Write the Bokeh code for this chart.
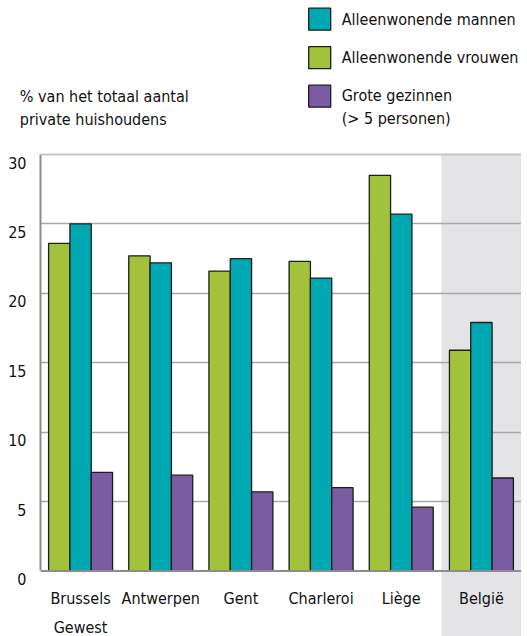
from bokeh.plotting import figure
from bokeh.layouts import column
from bokeh.models import (FactorRange, Range1d, FixedTicker, Span, ColumnDataSource)
from bokeh.transform import dodge
from bokeh.core.properties import value
from bokeh.embed import file_html
from bokeh.resources import INLINE

# ---- data ----
categories = ["Brussels Gewest", "Antwerpen", "Gent", "Charleroi", "Liège", "België"]
category_labels = ["Brussels\nGewest", "Antwerpen", "Gent", "Charleroi", "Liège", "België"]
vrouwen = [23.6, 22.7, 21.6, 22.3, 28.5, 15.9]   # Alleenwonende vrouwen
mannen = [25.0, 22.2, 22.5, 21.1, 25.7, 17.9]    # Alleenwonende mannen
grote = [7.1, 6.9, 5.7, 6.0, 4.6, 6.7]           # Grote gezinnen (> 5 personen)
y_ticks = [0, 5, 10, 15, 20, 25, 30]
highlight = ["België"]
series_labels = ["Alleenwonende mannen", "Alleenwonende vrouwen",
                 "Grote gezinnen\n(> 5 personen)"]
y_title = "% van het totaal aantal\nprivate huishoudens"

# ---- style ----
FONT = "DejaVu Sans Condensed"
GREEN = "#a3c23c"
TEAL = "#00a9b1"
PURPLE = "#7a5ca3"
BAND = "#e4e4e7"
EDGE = "#1c1c1c"
TXT = "#111111"
FS = "16px"
TOTAL_W = 521
TOP_H = 132
MAIN_H = 636 - TOP_H

# ---------- header (legend + y title) ----------
top = figure(width=TOTAL_W, height=TOP_H, x_range=Range1d(0, TOTAL_W),
             y_range=Range1d(TOP_H, 0), x_axis_location=None, y_axis_location=None,
             min_border=0, output_backend="svg", toolbar_location=None)
top.frame_align = False
top.grid.visible = False
top.outline_line_color = None

legend_colors = [TEAL, GREEN, PURPLE]
LEG_X, LEG_Y0, LEG_STEP, SQ = 319.2, 18.7, 38.5, 22
leg_y = [LEG_Y0 + LEG_STEP * i for i in range(len(series_labels))]
top.rect(x=[LEG_X] * len(leg_y), y=leg_y, width=SQ, height=SQ,
         fill_color=legend_colors, line_color=EDGE, line_width=1.3)
top.text(x=[LEG_X + 22] * 2, y=leg_y[:2], text=series_labels[:2],
         text_baseline="middle", text_align="left", text_font=value(FONT),
         text_font_size=FS, text_color=TXT)
top.text(x=[LEG_X + 22], y=[leg_y[2] + 11], text=series_labels[2:],
         text_baseline="middle", text_align="left", text_font=value(FONT),
         text_font_size=FS, text_color=TXT, text_line_height=1.2)
top.text(x=[19.3], y=[107.5], text=[y_title], text_baseline="middle",
         text_align="left", text_font=value(FONT), text_font_size=FS,
         text_color=TXT, text_line_height=1.22)

# ---------- main chart ----------
p = figure(x_range=FactorRange(*categories), y_range=Range1d(-4.718, 31.585),
           width=TOTAL_W, height=MAIN_H,
           min_border_left=40, min_border_right=0, min_border_top=0, min_border_bottom=0,
           x_axis_location=None, output_backend="svg", toolbar_location=None)
p.frame_align = False
p.outline_line_color = None
p.xgrid.visible = False
p.ygrid.ticker = FixedTicker(ticks=y_ticks[1:-1])
p.ygrid.grid_line_color = "#a8a8a8"
p.ygrid.grid_line_width = 1.5

# highlighted band for België
p.vbar(x=highlight, top=y_ticks[-1], bottom=p.y_range.start, width=1.0,
       fill_color=BAND, line_color=None, level="image")

ax = p.yaxis[0]
ax.ticker = FixedTicker(ticks=y_ticks)
ax.bounds = (y_ticks[0], y_ticks[-1])
ax.axis_line_color = "#8c8c8c"
ax.axis_line_width = 2
ax.major_tick_line_color = None
ax.minor_tick_line_color = None
ax.major_label_text_font = FONT
ax.major_label_text_font_size = FS
ax.major_label_text_color = TXT
ax.major_label_standoff = 8
ax.major_label_text_line_height = 0.9
ax.major_label_overrides = {t: "\n" + str(t) for t in y_ticks}

p.add_layout(Span(location=y_ticks[-1], dimension="width", line_color="#c4c4c4", line_width=2))

src = ColumnDataSource(dict(cat=categories, vrouwen=vrouwen, mannen=mannen, grote=grote))
W = 0.266
p.vbar(x=dodge("cat", -W, range=p.x_range), top="vrouwen", width=W, source=src,
       fill_color=GREEN, line_color=EDGE, line_width=1.3)
p.vbar(x=dodge("cat", 0, range=p.x_range), top="mannen", width=W, source=src,
       fill_color=TEAL, line_color=EDGE, line_width=1.3)
p.vbar(x=dodge("cat", W, range=p.x_range), top="grote", width=W, source=src,
       fill_color=PURPLE, line_color=EDGE, line_width=1.3)

p.add_layout(Span(location=y_ticks[0], dimension="width", line_color="#8c8c8c", line_width=2))

p.text(x=categories, y=-1.33, text=category_labels, text_align="center",
       text_baseline="top", text_font=value(FONT), text_font_size=FS,
       text_color=TXT, text_line_height=1.5)

layout = column(top, p, spacing=0)
open("out.html", "w").write(file_html(layout, INLINE))
